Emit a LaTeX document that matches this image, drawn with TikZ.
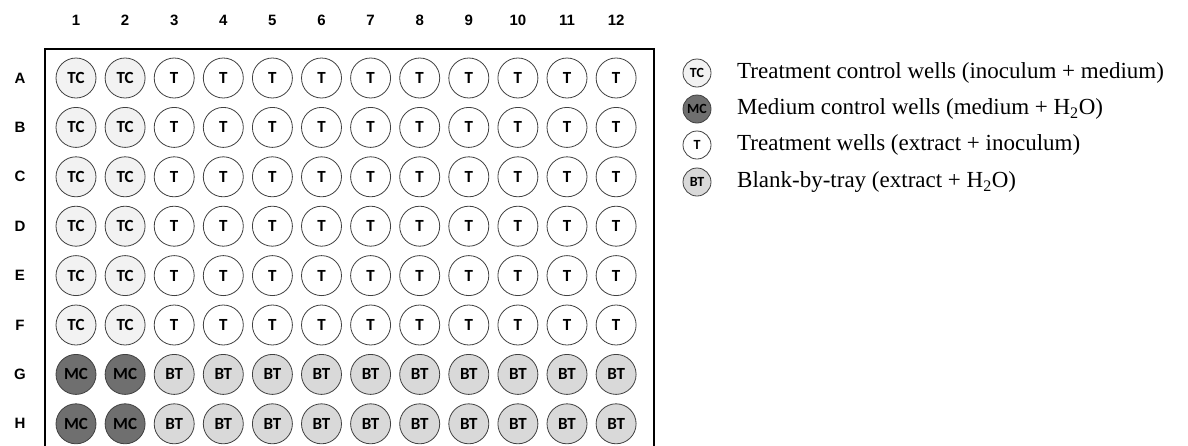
\documentclass[tikz,border=0pt]{standalone}
\usepackage{fontspec}
\setmainfont{Liberation Serif}
\newfontfamily\hdfont{Liberation Sans}
\newfontfamily\wellfont{Carlito}
\definecolor{tcfill}{HTML}{F2F2F2}
\definecolor{mcfill}{HTML}{6F6F6F}
\definecolor{btfill}{HTML}{D9D9D9}
\definecolor{rimcol}{HTML}{404040}
\begin{document}
\begin{tikzpicture}[x=1pt,y=-1pt,
  well/.style={circle,draw=rimcol,line width=0.8pt,minimum size=40pt,inner sep=0pt,
    font=\wellfont\bfseries\fontsize{17}{17}\selectfont},
  wTC/.style={well,fill=tcfill},
  wT/.style={well,fill=white},
  wMC/.style={well,fill=mcfill},
  wBT/.style={well,fill=btfill},
  lwell/.style={circle,draw=rimcol,line width=0.8pt,minimum size=28pt,inner sep=0pt,
    font=\wellfont\bfseries\fontsize{14}{14}\selectfont},
  hd/.style={font=\hdfont\bfseries\fontsize{15}{15}\selectfont},
  legtext/.style={anchor=west,font=\fontsize{23}{23}\selectfont,inner sep=0pt}]
\useasboundingbox (0,0) rectangle (1188,445);
\clip (0,0) rectangle (1188,445);
% plate frame
\draw[line width=2.4pt] (45,49) rectangle (654,470);
% column headers
\foreach \c in {1,...,12} {
  \node[hd] (col\c) at ({76+(\c-1)*49.1},20) {\c};
}
% row headers
\foreach \r/\L in {1/A,2/B,3/C,4/D,5/E,6/F,7/G,8/H} {
  \node[hd] (row\L) at (20,{78+(\r-1)*49.4}) {\L};
}
% wells
\foreach \r/\L in {1/A,2/B,3/C,4/D,5/E,6/F} {
  \foreach \c in {1,2} {
    \node[wTC] (w\L\c) at ({76+(\c-1)*49.1},{78+(\r-1)*49.4}) {TC};
  }
  \foreach \c in {3,...,12} {
    \node[wT] (w\L\c) at ({76+(\c-1)*49.1},{78+(\r-1)*49.4}) {T};
  }
}
\foreach \r/\L in {7/G,8/H} {
  \foreach \c in {1,2} {
    \node[wMC] (w\L\c) at ({76+(\c-1)*49.1},{78+(\r-1)*49.4}) {MC};
  }
  \foreach \c in {3,...,12} {
    \node[wBT] (w\L\c) at ({76+(\c-1)*49.1},{78+(\r-1)*49.4}) {BT};
  }
}
% legend
\node[lwell,fill=tcfill] (lTC) at (697,73) {TC};
\node[lwell,fill=mcfill] (lMC) at (697,109) {MC};
\node[lwell,fill=white] (lT) at (697,145) {T};
\node[lwell,fill=btfill] (lBT) at (697,182) {BT};
\node[legtext] (tTC) at (737,73) {Treatment control wells (inoculum + medium)};
\node[legtext] (tMC) at (737,109) {Medium control wells (medium + H\textsubscript{2}O)};
\node[legtext] (tT) at (737,145) {Treatment wells (extract + inoculum)};
\node[legtext] (tBT) at (737,182) {Blank-by-tray (extract + H\textsubscript{2}O)};
\end{tikzpicture}
\end{document}
